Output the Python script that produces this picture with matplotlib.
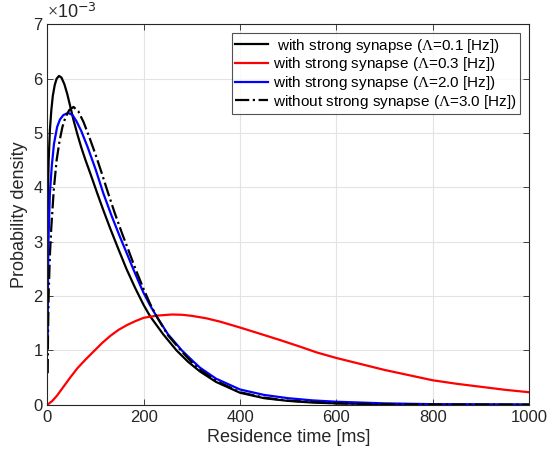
import matplotlib
matplotlib.use('Agg')
import matplotlib.pyplot as plt
from matplotlib.ticker import FuncFormatter

# values, density in units of 1e-3
t_a = [0.5, 1, 2.5, 5, 8, 11, 15, 19, 24, 29, 35, 41, 47, 54, 62, 70, 79, 90, 103, 116,
       130, 147, 164, 182, 200, 213, 240, 268, 292, 317, 350, 400, 450, 500, 550, 600, 700, 800, 1000]
p_a = [3.46, 3.9, 4.5, 5.05, 5.42, 5.68, 5.88, 6.0, 6.05, 6.02, 5.9, 5.72, 5.5, 5.24, 4.98, 4.74, 4.5, 4.23, 3.9, 3.58,
       3.25, 2.87, 2.5, 2.15, 1.83, 1.63, 1.3, 1.0, 0.79, 0.61, 0.42, 0.22, 0.12, 0.07, 0.04, 0.025, 0.008, 0.003, 0.0]

t_b = [0, 10, 20, 34, 48, 62, 80, 97, 114, 131, 148, 166, 183, 200, 228, 258, 280, 300, 330, 358, 400,
       440, 483, 524, 560, 600, 650, 700, 750, 800, 850, 900, 950, 1000]
p_b = [0.0, 0.07, 0.17, 0.34, 0.51, 0.67, 0.84, 0.99, 1.14, 1.27, 1.38, 1.47, 1.54, 1.6, 1.64, 1.66, 1.655, 1.635, 1.59, 1.53, 1.42,
       1.31, 1.19, 1.07, 0.96, 0.86, 0.75, 0.64, 0.545, 0.45, 0.385, 0.33, 0.275, 0.23]

t_c = [0.5, 1, 2, 5, 9, 13.5, 20, 26, 33, 43, 52, 60, 70, 83, 100, 116, 133, 150, 165, 178, 190, 200,
       213, 227, 250, 279, 300, 317, 350, 400, 450, 500, 550, 600, 700, 800, 1000]
p_c = [1.19, 2.2, 3.0, 3.89, 4.4, 4.8, 5.11, 5.25, 5.33, 5.37, 5.33, 5.22, 5.04, 4.75, 4.33, 3.89, 3.48, 3.1, 2.78, 2.5, 2.25, 2.05,
       1.83, 1.62, 1.3, 1.0, 0.82, 0.68, 0.48, 0.28, 0.18, 0.12, 0.08, 0.055, 0.025, 0.01, 0.003]

t_d = [0.5, 1, 2.5, 5, 8, 13, 19, 25, 31, 37, 45, 54, 64, 75, 87, 100, 112, 125, 140, 155, 170, 184, 200,
       213, 227, 250, 280, 300, 317, 350, 400, 450, 500, 600, 700, 800, 1000]
p_d = [0.58, 1.2, 2.05, 2.75, 3.27, 3.95, 4.5, 4.85, 5.11, 5.28, 5.42, 5.48, 5.4, 5.2, 4.92, 4.6, 4.28, 3.92, 3.52, 3.15, 2.8, 2.47, 2.12,
       1.86, 1.62, 1.28, 0.97, 0.78, 0.64, 0.44, 0.23, 0.13, 0.075, 0.025, 0.008, 0.002, 0.0]

labels = [' with strong synapse ($\\Lambda$=0.1 [Hz])',
          'with strong synapse ($\\Lambda$=0.3 [Hz])',
          'with strong synapse ($\\Lambda$=2.0 [Hz])',
          'without strong synapse ($\\Lambda$=3.0 [Hz])']

plt.rcParams['font.family'] = ['Liberation Sans', 'DejaVu Sans']
plt.rcParams['mathtext.fontset'] = 'custom'
plt.rcParams['mathtext.rm'] = 'Liberation Serif'
plt.rcParams['mathtext.it'] = 'Liberation Serif'

fig = plt.figure(figsize=(5.47, 4.57), dpi=100)
ax = fig.add_axes([0.0868, 0.1144, 0.967 - 0.0868, 0.9468 - 0.1144])

sc = 1e-3
ax.plot(t_a, [v * sc for v in p_a], color='black', lw=1.6, label=labels[0])
ax.plot(t_b, [v * sc for v in p_b], color='red', lw=1.6, label=labels[1])
ax.plot(t_c, [v * sc for v in p_c], color='blue', lw=1.6, label=labels[2])
ax.plot(t_d, [v * sc for v in p_d], color='black', lw=1.6, ls='-.', label=labels[3])

ax.set_xlim(0, 1000)
ax.set_ylim(0, 7e-3)
ax.set_xticks([0, 200, 400, 600, 800, 1000])
ax.set_yticks([i * 1e-3 for i in range(8)])
ax.yaxis.set_major_formatter(FuncFormatter(lambda v, pos: '%d' % round(v / 1e-3)))
ax.grid(True, color='#e3e3e3', lw=0.8)
ax.set_axisbelow(True)
ax.tick_params(direction='in', length=4, width=0.6, labelsize=12, color='#262626',
               labelcolor='#262626', top=True, right=True)
for s in ax.spines.values():
    s.set_linewidth(0.8)
    s.set_color('#262626')

ax.set_xlabel('Residence time [ms]', fontsize=13, color='#262626', labelpad=3)
ax.set_ylabel('Probability density', fontsize=13, color='#262626', labelpad=4)
ax.text(0.0, 1.005, '$\\times$10$^{\\mathsf{-3}}$', transform=ax.transAxes, fontsize=13,
        color='#262626', ha='left', va='bottom')

leg = ax.legend(loc='upper right', fontsize=11, frameon=True, fancybox=False,
                edgecolor='#262626', handlelength=2.2, handletextpad=0.3,
                borderpad=0.2, labelspacing=0.05, borderaxespad=0.6)
leg.get_frame().set_linewidth(0.8)

fig.savefig('out.png', dpi=100)
